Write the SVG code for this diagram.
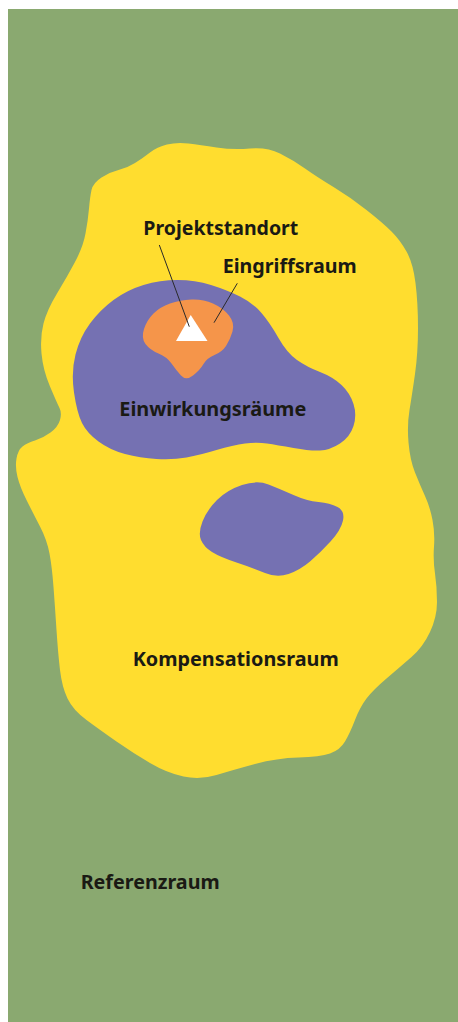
<svg xmlns="http://www.w3.org/2000/svg" width="458" height="1022" viewBox="0 0 458 1022">
<style>
.lbl{font-family:"Noto Sans","Open Sans","DejaVu Sans",sans-serif;font-weight:700;font-size:20px;fill:#1a1a14}
.lead{stroke:#2a2a2a;stroke-width:1;fill:none}
</style>
<rect width="458" height="1022" fill="#ffffff"/>
<g id="referenzraum">
<rect x="8" y="9" width="450" height="1013" fill="#8AA970"/>
<text class="lbl" x="80.7" y="888.5" textLength="139" lengthAdjust="spacingAndGlyphs">Referenzraum</text>
</g>
<g id="kompensationsraum">
<path fill="#FFDD2F" d="M 91.5,190 Q 93,183 101.5,177.5 Q 110,172 118.5,170 Q 127,168 135,163 Q 143,158 150,152.5 Q 157,147 167,144.5 Q 177,142 188.5,143.5 Q 200,145 216.5,147.5 Q 233,150 250,148.5 Q 267,147 280,153.5 Q 293,160 305,168.5 Q 317,177 333.5,187 Q 350,197 366.5,210 Q 383,223 391.5,231.5 Q 400,240 406.5,251.5 Q 413,263 415.5,283 Q 418,303 418,328 Q 418,353 415,374 Q 412,395 409.5,410 Q 407,425 408.5,442.5 Q 410,460 415,472.5 Q 420,485 425,496 Q 430,507 432.5,520 Q 435,533 434,546.5 Q 433,560 435,573.5 Q 437,587 437,602 Q 437,617 430,632 Q 423,647 411.5,657 Q 400,667 386.5,678.5 Q 373,690 366.5,698.5 Q 360,707 355,720 Q 350,733 345,741.5 Q 340,750 330,753.5 Q 320,757 298.5,757.5 Q 277,758 255,764 Q 233,770 216.5,775 Q 200,780 183.5,776.5 Q 167,773 150,763 Q 133,753 116.5,741.5 Q 100,730 86.5,720 Q 73,710 67.5,698.5 Q 62,687 60,670 Q 58,653 56.5,630 Q 55,607 53.5,587 Q 52,567 49.5,553.5 Q 47,540 40,526.5 Q 33,513 26.5,500 Q 20,487 17.5,477 Q 15,467 16.5,458.5 Q 18,450 22.5,446.5 Q 27,443 35,440.5 Q 43,438 50.5,432.5 Q 58,427 60,420 Q 62,413 59.5,408 Q 57,403 50,386.5 Q 43,370 41.5,353.5 Q 40,337 43.5,323.5 Q 47,310 57,293.5 Q 67,277 75,262 Q 83,247 85.5,233.5 Q 88,220 89,208.5 Q 90,197 91.5,190 Z"/>
<text class="lbl" x="132.7" y="665.5" textLength="206" lengthAdjust="spacingAndGlyphs">Kompensationsraum</text>
</g>
<g id="einwirkungsraeume">
<path fill="#7571B2" d="M 74,392.5 Q 71,372 75.5,354.5 Q 80,337 90,323.5 Q 100,310 113.5,300 Q 127,290 143.5,285 Q 160,280 177.5,280 Q 195,280 211,285 Q 227,290 240,296.5 Q 253,303 261.5,313 Q 270,323 278.5,338 Q 287,353 297,360 Q 307,367 320,372 Q 333,377 341.5,385 Q 350,393 353.5,404 Q 357,415 353.5,426 Q 350,437 340,443.5 Q 330,450 320,450.5 Q 310,451 293.5,448 Q 277,445 267,443.5 Q 257,442 245,443.5 Q 233,445 216.5,450 Q 200,455 186.5,457.5 Q 173,460 156.5,459 Q 140,458 125,454 Q 110,450 98.5,441.5 Q 87,433 82,423 Q 77,413 74,392.5 Z"/>
<path fill="#7571B2" d="M 201,540 Q 198,533 202.5,521.5 Q 207,510 217,500 Q 227,490 242,485 Q 257,480 268.5,484.5 Q 280,489 293.5,495 Q 307,501 318.5,502 Q 330,503 337.5,507 Q 345,511 343,520.5 Q 341,530 330.5,541.5 Q 320,553 310,561.5 Q 300,570 288.5,574 Q 277,578 265,573 Q 253,568 236.5,562.5 Q 220,557 212,552 Q 204,547 201,540 Z"/>
<text class="lbl" x="119.3" y="415.7" textLength="187" lengthAdjust="spacingAndGlyphs">Einwirkungsräume</text>
</g>
<g id="eingriffsraum">
<path fill="#F5954A" d="M 145.5,344 Q 141,338 144,329 Q 147,320 153.5,313.5 Q 160,307 170,303.5 Q 180,300 191.5,299.5 Q 203,299 213,303.5 Q 223,308 229,315.5 Q 235,323 232.5,331.5 Q 230,340 226,346 Q 222,352 214.5,355 Q 207,358 203.5,364 Q 200,370 193,375.5 Q 186,381 181,375.5 Q 176,370 171.5,363.5 Q 167,357 158.5,353.5 Q 150,350 145.5,344 Z"/>
<text class="lbl" x="222.7" y="273.3" textLength="134" lengthAdjust="spacingAndGlyphs">Eingriffsraum</text>
</g>
<g id="projektstandort">
<polygon points="190.7,315 176,341 207.5,341" fill="#ffffff"/>
<text class="lbl" x="143.3" y="235" textLength="155" lengthAdjust="spacingAndGlyphs">Projektstandort</text>
</g>
<g id="connectors">
<line class="lead" x1="159.3" y1="245" x2="189.3" y2="326.7"/>
<line class="lead" x1="237.3" y1="283.3" x2="214" y2="322.7"/>
</g>
</svg>
